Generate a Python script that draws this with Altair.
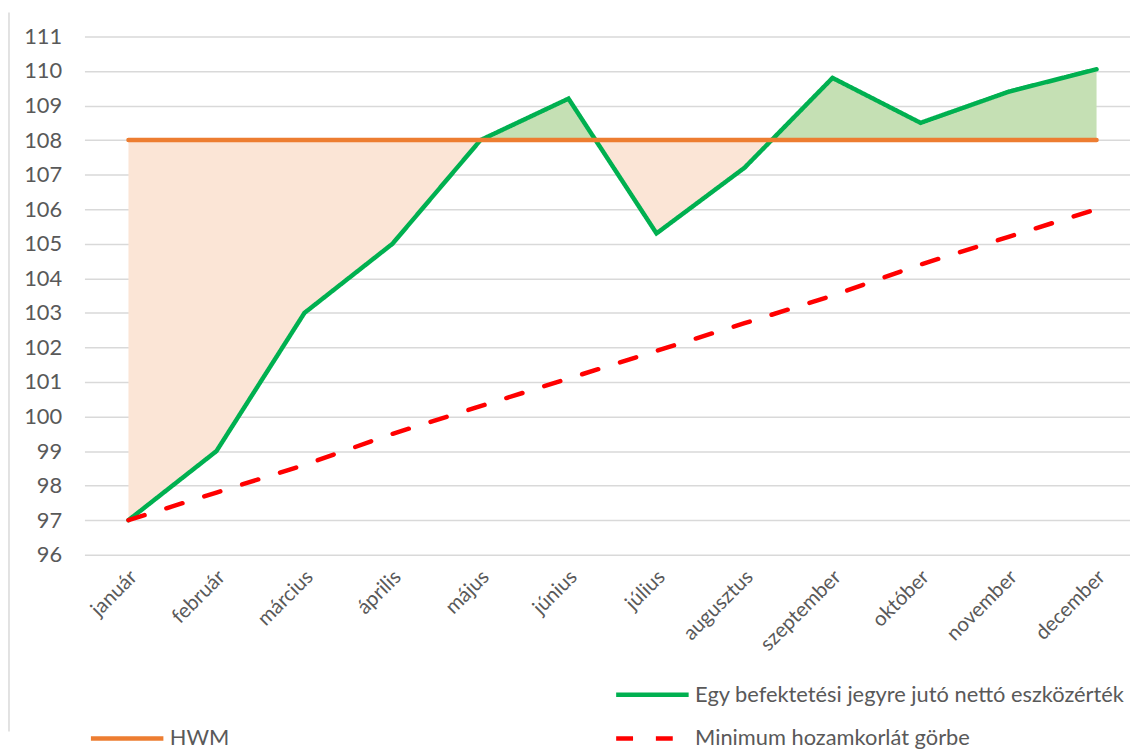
import altair as alt
import pandas as pd

months = ["január", "február", "március", "április", "május", "június",
          "július", "augusztus", "szeptember", "október", "november", "december"]
nav = [97.0, 99.0, 103.0, 105.0, 108.0, 109.2, 105.3, 107.2, 109.8, 108.5, 109.4, 110.05]
hwm = [108.0] * 12
minimum = [97.0, 97.8, 98.6, 99.5, 100.3, 101.1, 101.9, 102.7, 103.5, 104.4, 105.2, 106.0]
y_ticks = list(range(96, 112))

S_NAV = "Egy befektetési jegyre jutó nettó eszközérték"
S_HWM = "HWM"
S_MIN = "Minimum hozamkorlát görbe"
S_BLANK = " "

FONT = "Lato"
TXT = "#595959"

# long table for the lines
rows = []
for name, vals in [(S_NAV, nav), (S_HWM, hwm), (S_MIN, minimum)]:
    for i, v in enumerate(vals):
        rows.append({"i": i, "value": v, "series": name})
lines = pd.DataFrame(rows)

# area table: NAV vs HWM, with the crossing points added so the fills follow the line
arows = []
for i in range(len(nav)):
    arows.append({"i": float(i), "v": nav[i], "h": hwm[i]})
    if i < len(nav) - 1:
        a, b = nav[i] - hwm[i], nav[i + 1] - hwm[i + 1]
        if a * b < 0:
            t = a / (a - b)
            arows.append({"i": i + t, "v": hwm[i], "h": hwm[i]})
area = pd.DataFrame(arows)
area["low"] = area[["v", "h"]].min(axis=1)
area["high"] = area[["v", "h"]].max(axis=1)

xscale = alt.Scale(domain=[-0.5, 11.38], nice=False, zero=False)
yscale = alt.Scale(domain=[96, 111], nice=False, zero=False)

label_expr = "[" + ",".join('"%s"' % m for m in months) + "][datum.value]"

x_axis = alt.Axis(values=list(range(12)), labelExpr=label_expr, labelAngle=-45,
                  labelAlign="right", labelBaseline="middle", labelPadding=19, labelOffset=5,
                  grid=False, ticks=False, domain=False, title=None, labelOverlap=False,
                  labelFont=FONT, labelFontSize=20.5, labelColor=TXT)
y_axis = alt.Axis(values=y_ticks, grid=True, gridColor="#D9D9D9", gridWidth=1.5,
                  ticks=False, domain=False, title=None, labelPadding=23, labelOverlap=False,
                  labelFont=FONT, labelFontSize=22, labelColor=TXT)

base_area = alt.Chart(area)
orange_area = base_area.mark_area(color="#FBE5D6", opacity=1).encode(
    x=alt.X("i:Q", scale=xscale, axis=x_axis),
    y=alt.Y("low:Q", scale=yscale, axis=y_axis),
    y2="h:Q",
)
green_area = base_area.mark_area(color="#C5E0B4", opacity=1).encode(
    x=alt.X("i:Q", scale=xscale, axis=x_axis),
    y=alt.Y("high:Q", scale=yscale, axis=y_axis),
    y2="h:Q",
)

# legend is laid out column by column: col 1 = blank, HWM; col 2 = NAV, minimum
domain = [S_BLANK, S_HWM, S_NAV, S_MIN]
color_scale = alt.Scale(domain=domain, range=["#FFFFFF", "#ED7D31", "#00B050", "#FF0000"])
dash_scale = alt.Scale(domain=domain, range=[[1, 0], [1, 0], [1, 0], [17, 23]])
legend = alt.Legend(title=None, orient="none", legendX=2, legendY=652, columns=2,
                    columnPadding=379, rowPadding=22,
                    symbolType="M-7.3,0H7.3", symbolSize=100, symbolStrokeWidth=4.5,
                    symbolOffset=30, labelOffset=32,
                    labelFont=FONT, labelFontSize=22, labelColor=TXT, labelLimit=600)

line_layer = alt.Chart(lines).mark_line(strokeWidth=4.5, strokeCap="round", strokeJoin="miter").encode(
    x=alt.X("i:Q", scale=xscale, axis=x_axis),
    y=alt.Y("value:Q", scale=yscale, axis=y_axis),
    color=alt.Color("series:N", scale=color_scale, legend=legend, sort=domain),
    strokeDash=alt.StrokeDash("series:N", scale=dash_scale, legend=legend, sort=domain),
    order=alt.Order("i:Q"),
)

# thin grey chart-area border at the far left
border = alt.Chart(pd.DataFrame({"b": [0]})).mark_rule(color="#D9D9D9", strokeWidth=1.5).encode(
    x=alt.value(-76), y=alt.value(-24), y2=alt.value(700)
)

chart = alt.layer(orange_area, green_area, line_layer, border).properties(
    width=1053, height=522,
    autosize=alt.AutoSizeParams(type="none"),
    padding={"left": 77, "top": 26, "right": 0, "bottom": 195},
    background="white",
).configure_view(stroke=None)

chart.save("out.html", embed_options={"renderer": "svg", "actions": False})
